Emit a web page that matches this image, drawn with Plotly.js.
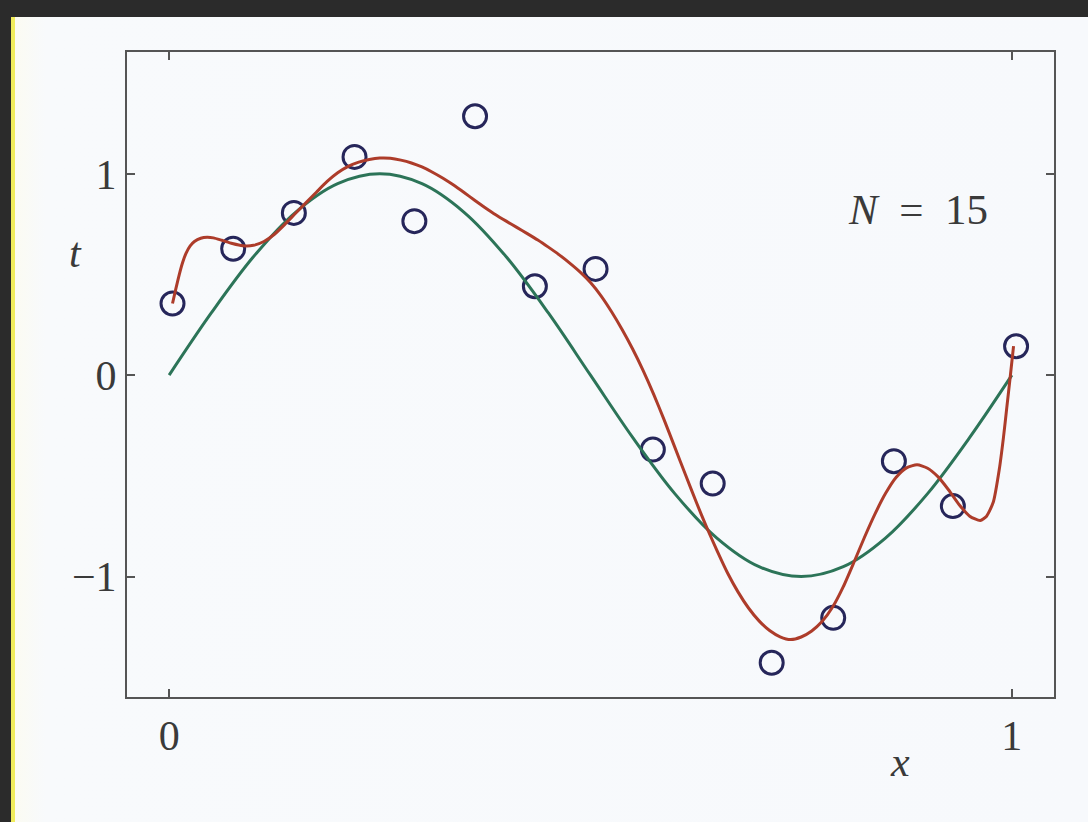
<!DOCTYPE html>
<html>
<head>
<meta charset="utf-8">
<script src="https://cdn.plot.ly/plotly-3.0.1.min.js"></script>
<style>
  html, body { margin: 0; padding: 0; width: 1088px; height: 822px; overflow: hidden; background: #2b2b2b; }
  #page {
    position: absolute; left: 11px; top: 17px; width: 1077px; height: 805px;
    background: linear-gradient(to right, #fbfbf2 0px, #f8fafc 30px, #f7f9fc 100%);
    border-left: 4px solid #f0ec5c; box-sizing: border-box;
  }
  #chart { position: absolute; left: 0; top: 0; width: 1088px; height: 822px; }
</style>
</head>
<body>
<div id="page"></div>
<div id="chart"></div>
<script>
// Observed targets t at N = 15 evenly spaced inputs
const pointX = [0.004, 0.076, 0.148, 0.220, 0.291, 0.363, 0.434, 0.506,
                0.574, 0.645, 0.715, 0.788, 0.860, 0.930, 1.005];
const pointT = [0.356, 0.628, 0.806, 1.084, 0.765, 1.286, 0.442, 0.528,
                -0.369, -0.538, -1.428, -1.205, -0.427, -0.650, 0.144];

// Underlying generating curve (green)
const trueX = [0, 0.05, 0.1, 0.15, 0.2, 0.25, 0.3, 0.35, 0.4, 0.45, 0.5,
               0.55, 0.6, 0.65, 0.7, 0.75, 0.8, 0.85, 0.9, 0.95, 1];
const trueT = [0, 0.309, 0.588, 0.809, 0.951, 1, 0.951, 0.809, 0.588, 0.309, 0,
               -0.309, -0.588, -0.809, -0.951, -1, -0.951, -0.809, -0.588, -0.309, 0];

// Fitted polynomial (red)
const fitX = [0.004, 0.008, 0.012, 0.016, 0.02, 0.025, 0.03, 0.0375, 0.045, 0.0525,
              0.0625, 0.075, 0.0875, 0.1, 0.1125,
              0.125, 0.1375, 0.15, 0.1625, 0.175, 0.1875, 0.2, 0.2125, 0.225, 0.2375,
              0.25, 0.2625, 0.275, 0.2875, 0.3, 0.3125, 0.325, 0.3375, 0.35, 0.3625,
              0.375, 0.3875, 0.4, 0.4125, 0.425, 0.4375, 0.45, 0.4625, 0.475, 0.4875,
              0.5, 0.5125, 0.525, 0.5375, 0.55, 0.5625, 0.575, 0.5875, 0.6, 0.6125,
              0.625, 0.6375, 0.65, 0.6625, 0.675, 0.6875, 0.7, 0.7125, 0.725, 0.7375,
              0.75, 0.7625, 0.775, 0.7875, 0.8, 0.8125, 0.825, 0.8375, 0.85, 0.8625,
              0.875, 0.8875, 0.9, 0.9125, 0.925, 0.9375, 0.95, 0.9625, 0.97, 0.978,
              0.985, 0.990, 0.994, 0.998, 1.002];
const fitT = [0.356, 0.430, 0.500, 0.560, 0.605, 0.642, 0.664, 0.680, 0.685, 0.682,
              0.670, 0.654, 0.643, 0.645, 0.664,
              0.700, 0.750, 0.804, 0.857, 0.910, 0.962, 1.005, 1.037, 1.058, 1.071,
              1.078, 1.077, 1.068, 1.054, 1.034, 1.008, 0.978, 0.944, 0.907, 0.869,
              0.832, 0.797, 0.765, 0.734, 0.703, 0.671, 0.636, 0.599, 0.558, 0.513,
              0.460, 0.394, 0.315, 0.227, 0.130, 0.023, -0.095, -0.223, -0.357, -0.492,
              -0.625, -0.752, -0.870, -0.981, -1.076, -1.156, -1.220, -1.268, -1.299, -1.313,
              -1.300, -1.270, -1.222, -1.150, -1.050, -0.930, -0.806, -0.690, -0.588, -0.508,
              -0.460, -0.445, -0.462, -0.505, -0.570, -0.643, -0.700, -0.722, -0.700, -0.630,
              -0.470, -0.310, -0.160, -0.010, 0.144];

const yTicks = [-1, 0, 1];
const xTicks = [0, 1];

const serif = '"Liberation Serif", "DejaVu Serif", serif';
const ink = '#3a3a3a';

const traces = [
  {
    x: pointX, y: pointT, type: 'scatter', mode: 'markers',
    marker: { symbol: 'circle-open', size: 23, color: '#26265a', line: { width: 3, color: '#26265a' } }
  },
  {
    x: trueX, y: trueT, type: 'scatter', mode: 'lines',
    line: { color: '#2c7458', width: 3, shape: 'spline', smoothing: 1 }
  },
  {
    x: fitX, y: fitT, type: 'scatter', mode: 'lines',
    line: { color: '#ad3c2a', width: 3, shape: 'spline', smoothing: 0.6 }
  }
];

const axisCommon = {
  showline: true, linecolor: '#555555', linewidth: 2, mirror: 'allticks',
  ticks: 'inside', ticklen: 8, tickwidth: 2, tickcolor: '#555555',
  showgrid: false, zeroline: false, fixedrange: true,
  tickfont: { family: serif, size: 42, color: ink }
};

const layout = {
  width: 1088, height: 822,
  margin: { l: 127, r: 34, t: 52, b: 125 },
  paper_bgcolor: 'rgba(0,0,0,0)',
  plot_bgcolor: 'rgba(0,0,0,0)',
  showlegend: false,
  xaxis: Object.assign({}, axisCommon, {
    range: [-0.05, 1.05], tickmode: 'array', tickvals: xTicks, ticklabelstandoff: 1
  }),
  yaxis: Object.assign({}, axisCommon, {
    range: [-1.598, 1.605], tickmode: 'array', tickvals: yTicks, ticklabelstandoff: 0
  }),
  annotations: [
    {
      text: '<i>N</i>\u2002=\u200215', xref: 'x', yref: 'y', x: 0.889, y: 0.823,
      xanchor: 'center', yanchor: 'middle',
      showarrow: false, font: { family: serif, size: 43, color: ink }
    },
    {
      text: '<i>t</i>', xref: 'paper', yref: 'paper', x: -0.056, y: 0.688,
      xanchor: 'center', yanchor: 'middle',
      showarrow: false, font: { family: serif, size: 42, color: ink }
    },
    {
      text: '<i>x</i>', xref: 'paper', yref: 'paper', x: 0.834, y: -0.1,
      xanchor: 'center', yanchor: 'middle',
      showarrow: false, font: { family: serif, size: 42, color: ink }
    }
  ]
};

Plotly.newPlot('chart', traces, layout, { displayModeBar: false, staticPlot: true });
</script>
</body>
</html>
